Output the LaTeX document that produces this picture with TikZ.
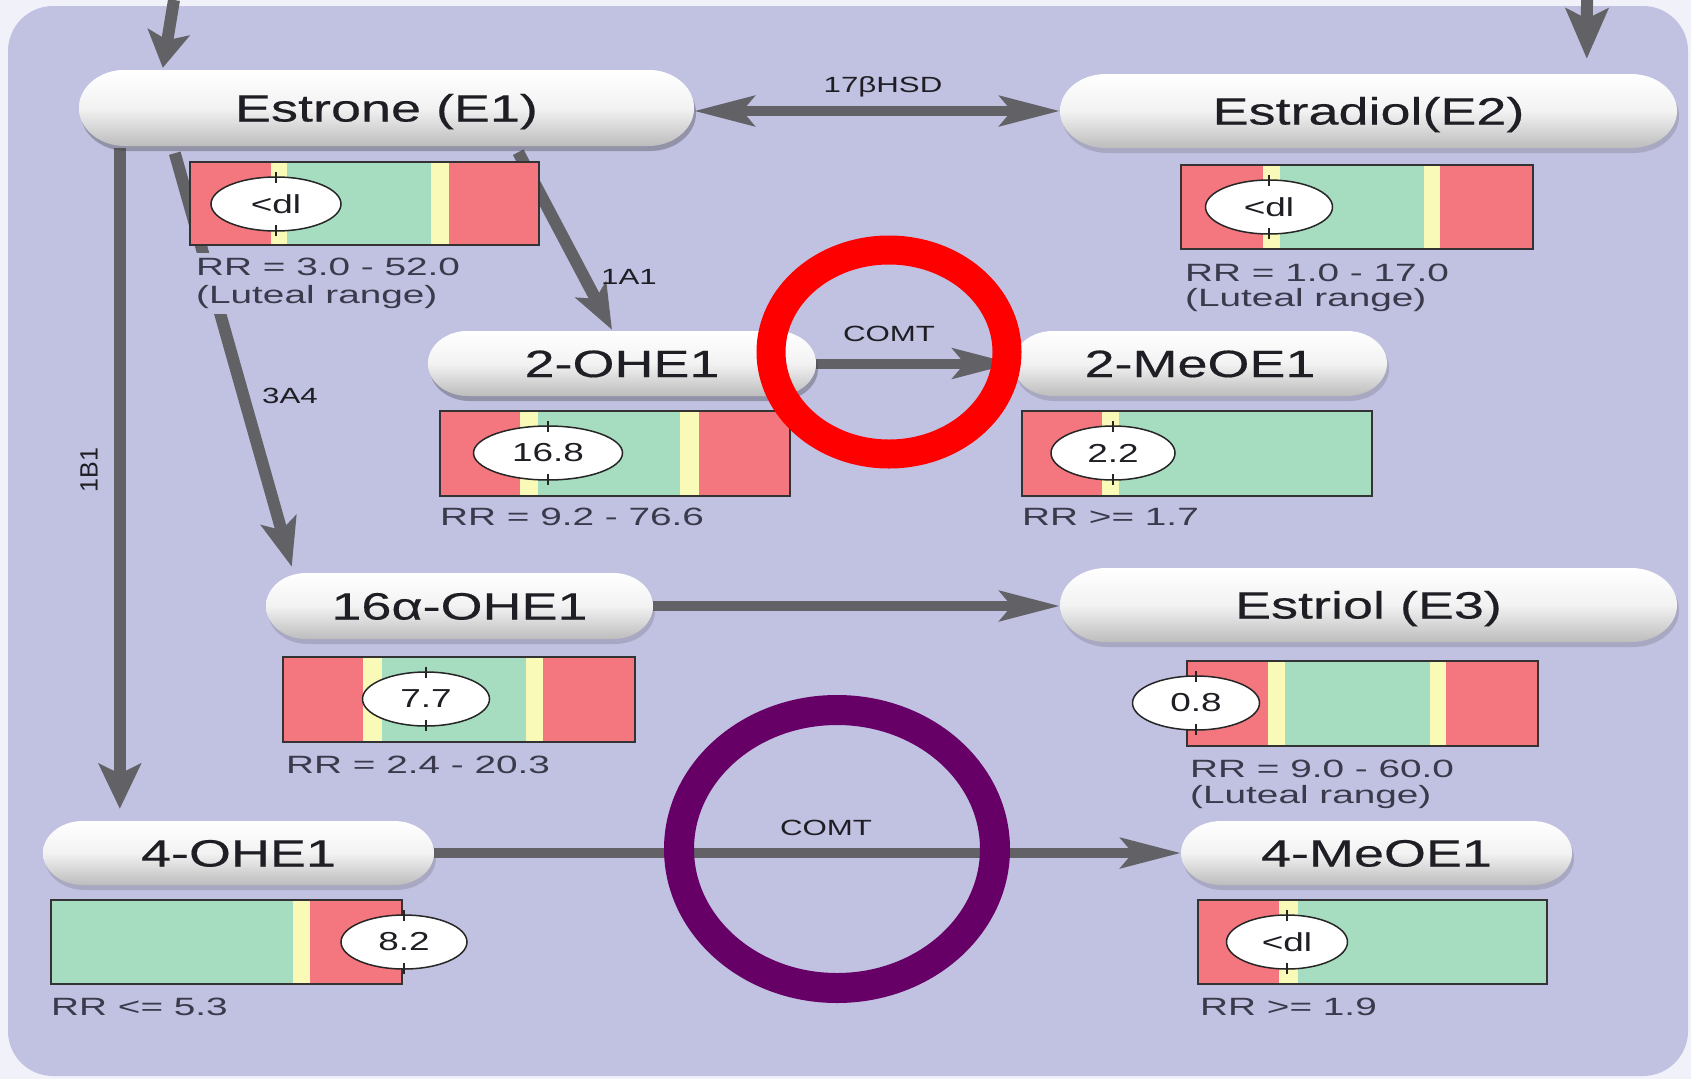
\documentclass[tikz,border=0pt]{standalone}
\usepackage{fontspec}
\setmainfont{Liberation Sans}
\newfontfamily\tfont[FakeStretch=1.42,FakeBold=0.4]{Liberation Sans}
\newfontfamily\sfont[FakeStretch=1.42]{Liberation Sans}
\newfontfamily\rfont[FakeStretch=1.55]{Liberation Sans}
\newfontfamily\pfont{Liberation Sans}
\usetikzlibrary{arrows.meta,shapes.geometric,calc}
\definecolor{outerbg}{HTML}{F1F2F9}
\definecolor{lav}{HTML}{C1C1E1}
\definecolor{agray}{HTML}{616166}
\definecolor{rrred}{HTML}{F4777F}
\definecolor{rryel}{HTML}{FAFAB8}
\definecolor{rrgrn}{HTML}{A6DDC0}
\definecolor{ringpurple}{HTML}{660066}
\definecolor{txt}{HTML}{1E1E24}
\definecolor{lbltxt}{HTML}{3A3A4C}

\tikzset{
  title/.style={font=\tfont\fontsize{38}{40}\selectfont, text=txt, inner sep=0pt, text height=27pt, text depth=0pt},
  conn/.style={draw=agray, line width=10pt},
  hd/.style={-{Stealth[length=60pt,width=30pt,inset=12pt]}},
  lab/.style={font=\sfont\fontsize{22}{24}\selectfont, text=txt, inner sep=1pt},
  rrlab/.style={font=\rfont\fontsize{25}{27}\selectfont, text=lbltxt, anchor=west, fill=lav, inner xsep=2pt, inner ysep=5pt},
  val/.style={ellipse, draw=black!85, line width=1.5pt, fill=white, minimum height=54pt, inner sep=0pt, font=\sfont\fontsize{26}{28}\selectfont, text=txt},
  barline/.style={draw=black!80, line width=1.6pt},
  tick/.style={draw=black!85, line width=1.5pt},
}

% pill: name, x1, y1, x2, y2, rx, ry, text
\newcommand\pill[8]{%
  \begin{scope}[shift={(2,5)}]
    \fill[black,opacity=0.13] ({#2+#6},#3) -- ({#4-#6},#3)
      arc[start angle=-90,end angle=90,x radius=#6,y radius=#7]
      -- ({#2+#6},#5)
      arc[start angle=90,end angle=270,x radius=#6,y radius=#7] -- cycle;
  \end{scope}
  \shade[top color=white, bottom color=black!26, middle color=black!5]
    ({#2+#6},#3) -- ({#4-#6},#3)
    arc[start angle=-90,end angle=90,x radius=#6,y radius=#7]
    -- ({#2+#6},#5)
    arc[start angle=90,end angle=270,x radius=#6,y radius=#7] -- cycle;
  \node[title, minimum width={#4-#2}, minimum height={#5-#3}] (#1) at ({(#2+#4)/2},{(#3+#5)/2}) {#8};
}

% bar: x1,y1,x2,y2,a,b,c,d  (red | yellow | green | yellow | red)
\newcommand\segbar[8]{%
  \fill[rrred] (#1,#2) rectangle (#5,#4);
  \fill[rryel] (#5,#2) rectangle (#6,#4);
  \fill[rrgrn] (#6,#2) rectangle (#7,#4);
  \fill[rryel] (#7,#2) rectangle (#8,#4);
  \fill[rrred] (#8,#2) rectangle (#3,#4);
  \draw[barline] (#1,#2) rectangle (#3,#4);
}

% value ellipse: name, x, y, width, text
\newcommand\valnode[5]{%
  \node[val, minimum width=#4] (#1) at (#2,#3) {#5};
  \draw[tick] ($(#1.north)+(0,-4)$) -- ++(0,11);
  \draw[tick] ($(#1.south)+(0,-7)$) -- ++(0,11);
}

\begin{document}
\begin{tikzpicture}[x=1pt,y=-1pt]
\useasboundingbox (0,0) rectangle (1691,1079);
\fill[outerbg] (0,0) rectangle (1691,1079);
\fill[lav, rounded corners=45pt] (8,6) rectangle (1688,1076);

% pills
\pill{E1}{79}{70}{694}{146}{46}{38}{Estrone (E1)}
\pill{E2}{1060}{74}{1677}{148}{46}{37}{Estradiol(E2)}
\pill{OH2}{428}{331}{816}{396}{40}{32.5}{2-OHE1}
\pill{MeO2}{1013}{331}{1387}{396}{40}{32.5}{2-MeOE1}
\pill{OH16}{266}{573}{653}{639}{40}{33}{16α-OHE1}
\pill{E3}{1060}{568}{1677}{642}{46}{37}{Estriol (E3)}
\pill{OH4}{43}{821}{434}{885}{40}{32}{4-OHE1}
\pill{MeO4}{1181}{821}{1572}{885}{40}{32}{4-MeOE1}

% connectors
\coordinate (topL) at (174,0);
\coordinate (topR) at (1587,0);
\draw[conn, line width=12pt, -{Stealth[length=36pt,width=42pt,inset=8pt]}]
  (topL) -- ($(E1.north west)+(84,-2)$);
\draw[conn, line width=12pt, -{Stealth[length=50pt,width=42pt,inset=10pt]}]
  (topR) -- ($(E2.north west)+(527,-15)$);
\draw[conn, {Stealth[length=60pt,width=30pt,inset=12pt]}-{Stealth[length=60pt,width=30pt,inset=12pt]}]
  (E1.east |- E2.west) -- (E2.west);
\draw[conn, line width=12pt, -{Stealth[length=45pt,width=34pt,inset=10pt]}]
  ($(E1.south east)+(-176,6)$) -- ($(OH2.north)+(-10,-1)$);
\draw[conn, line width=12pt, -{Stealth[length=48pt,width=36pt,inset=10pt]}]
  ($(E1.south west)+(96,7)$) -- ($(OH16.north west)+(26,-6)$);
\draw[conn, line width=12pt, -{Stealth[length=45pt,width=42pt,inset=10pt]}]
  ($(E1.south west)+(41,2)$) -- ($(OH4.north west)+(77,-12)$);
\draw[conn, hd] (OH2.east) -- (MeO2.west);
\draw[conn, hd] (OH16.east) -- (OH16.east -| E3.west);
\draw[conn, hd] (OH4.east) -- (OH4.east -| MeO4.west);

% redraw pills over connector starts
\pill{E1}{79}{70}{694}{146}{46}{38}{Estrone (E1)}
\pill{OH2}{428}{331}{816}{396}{40}{32.5}{2-OHE1}

% bars
\segbar{190}{162}{539}{245}{271}{287}{431}{449}
\segbar{1181}{165}{1533}{249}{1263}{1280}{1424}{1440}
\segbar{440}{411}{790}{496}{520}{538}{680}{699}
\segbar{1022}{411}{1372}{496}{1102}{1119}{1372}{1372}
\segbar{283}{657}{635}{742}{363}{382}{526}{543}
\segbar{1187}{661}{1538}{746}{1268}{1285}{1430}{1446}
\segbar{51}{900}{402}{984}{51}{51}{293}{310}
\segbar{1198}{900}{1547}{984}{1279}{1298}{1547}{1547}

% values
\valnode{v1}{276}{204}{130pt}{<dl}
\valnode{v2}{1269}{207}{127pt}{<dl}
\valnode{v3}{548}{453}{149pt}{16.8}
\valnode{v4}{1113}{453}{124pt}{2.2}
\valnode{v5}{426}{699}{127pt}{7.7}
\valnode{v6}{1196}{703}{127pt}{0.8}
\valnode{v7}{404}{942}{126pt}{8.2}
\valnode{v8}{1287}{942}{121pt}{<dl}

% reference ranges
\node[rrlab] (r1a) at (194,267) {RR = 3.0 - 52.0};
\node[rrlab] (r1b) at (194,297) {(Luteal range)};
\node[rrlab] (r2a) at (1183,273) {RR = 1.0 - 17.0};
\node[rrlab] (r2b) at (1183,300) {(Luteal range)};
\node[rrlab] (r3) at (438,517) {RR = 9.2 - 76.6};
\node[rrlab] (r4) at (1020,517) {RR >= 1.7};
\node[rrlab] (r5) at (284,765) {RR = 2.4 - 20.3};
\node[rrlab] (r6a) at (1188,769) {RR = 9.0 - 60.0};
\node[rrlab] (r6b) at (1188,797) {(Luteal range)};
\node[rrlab] (r7) at (49,1007) {RR <= 5.3};
\node[rrlab] (r8) at (1198,1007) {RR >= 1.9};

% enzyme labels
\node[lab] (l17) at (883,87) {17βHSD};
\node[lab] (l1A1) at (629,277) {1A1};
\node[lab] (l3A4) at (290,396) {3A4};
\node[lab] (lc1) at (889,334) {COMT};
\node[lab] (lc2) at (826,828) {COMT};
\node[font=\pfont\fontsize{25}{27}\selectfont, text=txt, rotate=90, inner sep=1pt] (l1B1) at (89,470) {1B1};

% highlight rings
\draw[red, line width=29pt] (889,352) ellipse [x radius=118, y radius=102];
\draw[ringpurple, line width=30pt] (837,849) ellipse [x radius=158, y radius=139];
\end{tikzpicture}
\end{document}
